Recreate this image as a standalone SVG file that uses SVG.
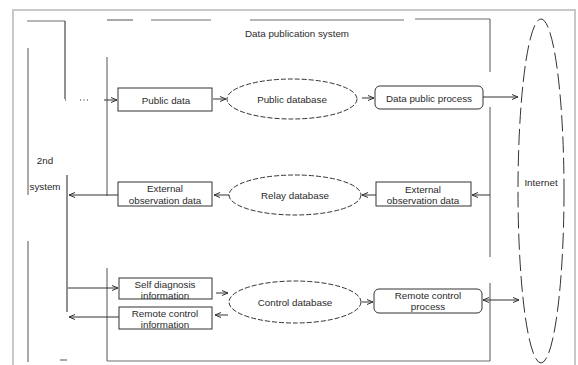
<svg xmlns="http://www.w3.org/2000/svg" width="578" height="365" viewBox="0 0 578 365">
  <style>
    .frame { fill: none; stroke: #c8c8c8; stroke-width: 2; }
    .wall { fill: none; stroke: #6e6e6e; stroke-width: 1.2; }
    .wall-dark { fill: none; stroke: #222; stroke-width: 1; }
    .box { fill: #fff; stroke: #333; stroke-width: 1; }
    .db { fill: #fff; stroke: #333; stroke-width: 1; stroke-dasharray: 5 2; }
    .net { fill: none; stroke: #333; stroke-width: 1; stroke-dasharray: 16 5; }
    .lbl { font-family: "Liberation Sans", Arial, sans-serif; font-size: 9.8px; fill: #2a2a2a; text-anchor: middle; dominant-baseline: central; }
    .conn line { stroke: #333; stroke-width: 1; }
  </style>
  <defs>
    <marker id="arrow" viewBox="0 0 6 6" refX="6" refY="3" markerWidth="6" markerHeight="6" markerUnits="userSpaceOnUse" orient="auto-start-reverse">
      <path d="M0,0.5 L6,3 L0,5.5" fill="none" stroke="#333" stroke-width="1"/>
    </marker>
  </defs>

  <rect width="578" height="365" fill="#fff"/>
  <!-- page frame -->
  <rect class="frame" x="13" y="10" width="562" height="362"/>

  <!-- 2nd system container -->
  <g id="second-system">
    <polyline class="wall" points="27,21 65,21"/>
    <polyline class="wall-dark" points="65,21 65,99"/>
    <line class="wall" x1="28" y1="48" x2="28" y2="195"/>
    <line class="wall" x1="28" y1="241" x2="28" y2="362"/>
    <line class="wall-dark" x1="67" y1="175" x2="67" y2="312"/>
    <line class="wall" x1="60" y1="360" x2="67" y2="360"/>
    <text class="lbl" x="45" y="160">2nd</text>
    <text class="lbl" x="45" y="186">system</text>
  </g>

  <!-- Data publication system container -->
  <g id="data-publication-system">
    <line class="wall" x1="107" y1="20" x2="133" y2="20"/>
    <line class="wall" x1="151" y1="20" x2="211" y2="20"/>
    <line class="wall" x1="250" y1="20" x2="404" y2="20"/>
    <line class="wall" x1="415" y1="19" x2="490" y2="19"/>
    <line class="wall" x1="490" y1="19" x2="490" y2="72"/>
    <line class="wall" x1="490" y1="107" x2="490" y2="257"/>
    <line class="wall" x1="490" y1="283" x2="490" y2="361"/>
    <line class="wall" x1="107" y1="57" x2="107" y2="196"/>
    <line class="wall" x1="107" y1="268" x2="107" y2="361"/>
    <line class="wall" x1="107" y1="361" x2="490" y2="361"/>
    <text class="lbl" x="297" y="33" font-size="10.8">Data publication system</text>
  </g>

  <!-- Internet -->
  <g id="internet">
    <ellipse class="net" cx="541" cy="191" rx="23" ry="172"/>
    <text class="lbl" x="541" y="182">Internet</text>
  </g>

  <!-- publication row -->
  <g id="public-data">
    <rect class="box" x="118" y="88" width="94" height="23"/>
    <text class="lbl" x="166" y="100">Public data</text>
  </g>
  <g id="public-database">
    <ellipse class="db" cx="292" cy="99" rx="65" ry="20"/>
    <text class="lbl" x="292" y="99">Public database</text>
  </g>
  <g id="data-public-process">
    <rect class="box" x="375" y="86" width="108" height="23" rx="5"/>
    <text class="lbl" x="429" y="98">Data public process</text>
  </g>

  <!-- relay row -->
  <g id="external-observation-data-out">
    <rect class="box" x="118" y="182" width="94" height="24"/>
    <text class="lbl" x="165" y="188">External</text>
    <text class="lbl" x="165" y="200">observation data</text>
  </g>
  <g id="relay-database">
    <ellipse class="db" cx="295" cy="195" rx="66" ry="20"/>
    <text class="lbl" x="295" y="195">Relay database</text>
  </g>
  <g id="external-observation-data-in">
    <rect class="box" x="376" y="182" width="95" height="24"/>
    <text class="lbl" x="423" y="189">External</text>
    <text class="lbl" x="423" y="200">observation data</text>
  </g>

  <!-- control row -->
  <g id="self-diagnosis-information">
    <rect class="box" x="119" y="278" width="93" height="21"/>
    <text class="lbl" x="165" y="284">Self diagnosis</text>
    <text class="lbl" x="165" y="295">information</text>
  </g>
  <g id="remote-control-information">
    <rect class="box" x="119" y="307" width="93" height="22"/>
    <text class="lbl" x="165" y="313">Remote control</text>
    <text class="lbl" x="165" y="324">information</text>
  </g>
  <g id="control-database">
    <ellipse class="db" cx="295" cy="302" rx="66" ry="21"/>
    <text class="lbl" x="295" y="302">Control database</text>
  </g>
  <g id="remote-control-process">
    <rect class="box" x="374" y="289" width="108" height="24" rx="5"/>
    <text class="lbl" x="428" y="295">Remote control</text>
    <text class="lbl" x="428" y="306">process</text>
  </g>

  <!-- connectors -->
  <g id="connectors" class="conn">
    <line x1="65" y1="100" x2="66" y2="100"/>
    <line x1="80" y1="100" x2="90" y2="100" stroke-dasharray="1 2.5"/>
    <line x1="104" y1="100" x2="117" y2="100" marker-end="url(#arrow)"/>
    <line x1="213" y1="99" x2="226" y2="99" marker-end="url(#arrow)"/>
    <line x1="362" y1="98" x2="374" y2="98" marker-end="url(#arrow)"/>
    <line x1="483" y1="97" x2="518" y2="97" marker-end="url(#arrow)"/>

    <line x1="490" y1="195" x2="472" y2="195" marker-end="url(#arrow)"/>
    <line x1="376" y1="195" x2="362" y2="195" marker-end="url(#arrow)"/>
    <line x1="229" y1="195" x2="214" y2="195" marker-end="url(#arrow)"/>
    <line x1="118" y1="195" x2="69" y2="195" marker-end="url(#arrow)"/>

    <line x1="68" y1="288" x2="118" y2="288" marker-end="url(#arrow)"/>
    <line x1="216" y1="293" x2="228" y2="293" marker-end="url(#arrow)"/>
    <line x1="228" y1="315" x2="215" y2="315" marker-end="url(#arrow)"/>
    <line x1="119" y1="317" x2="69" y2="317" marker-end="url(#arrow)"/>
    <line x1="362" y1="302" x2="373" y2="302" marker-end="url(#arrow)"/>
    <line x1="483" y1="300" x2="519" y2="300" marker-start="url(#arrow)" marker-end="url(#arrow)"/>
  </g>
</svg>
